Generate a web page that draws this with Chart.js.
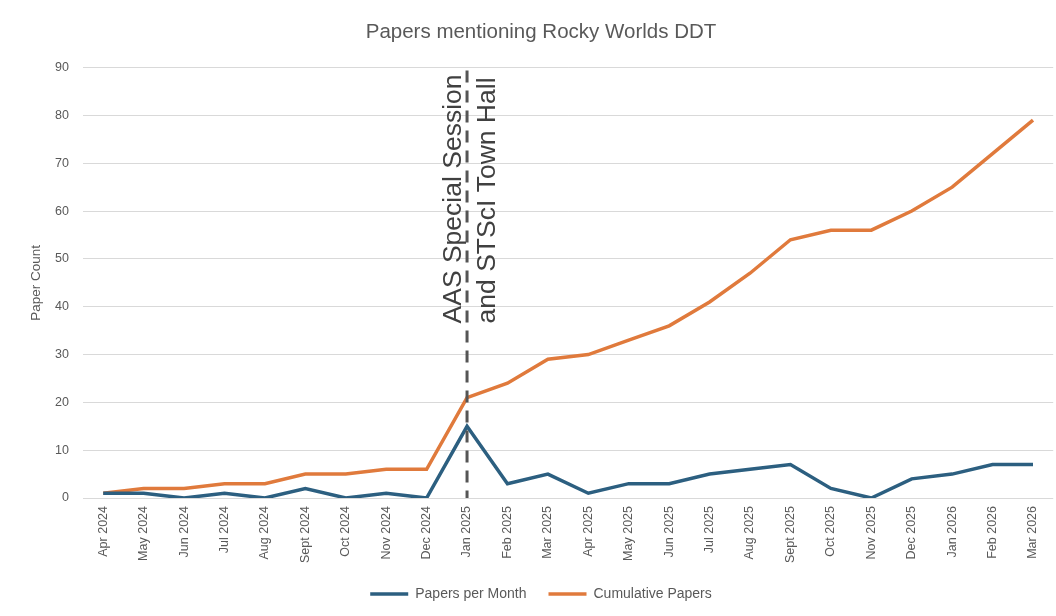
<!DOCTYPE html>
<html>
<head>
<meta charset="utf-8">
<script src="https://cdn.jsdelivr.net/npm/chart.js@4.4.1/dist/chart.umd.min.js"></script>
<style>
  html, body { margin: 0; padding: 0; background: #ffffff; }
  #wrap { width: 1056px; height: 616px; position: relative; }
</style>
</head>
<body>
<div id="wrap"><canvas id="papersChart" width="1056" height="616"></canvas></div>
<script>
// === data ===
const months = ['Apr 2024', 'May 2024', 'Jun 2024', 'Jul 2024', 'Aug 2024', 'Sept 2024', 'Oct 2024',
  'Nov 2024', 'Dec 2024', 'Jan 2025', 'Feb 2025', 'Mar 2025', 'Apr 2025', 'May 2025', 'Jun 2025',
  'Jul 2025', 'Aug 2025', 'Sept 2025', 'Oct 2025', 'Nov 2025', 'Dec 2025', 'Jan 2026', 'Feb 2026', 'Mar 2026'];
const perMonth = [1, 1, 0, 1, 0, 2, 0, 1, 0, 15, 3, 5, 1, 3, 3, 5, 6, 7, 2, 0, 4, 5, 7, 7];
const cumulative = [1, 2, 2, 3, 3, 5, 5, 6, 6, 21, 24, 29, 30, 33, 36, 41, 47, 54, 56, 56, 60, 65, 72, 79];
const eventMonth = 'Jan 2025';
const eventLines = ['AAS Special Session', 'and STScI Town Hall'];

const sans = '"Liberation Sans", Arial, sans-serif';

// dashed marker + rotated note at the event month
const eventMarker = {
  id: 'eventMarker',
  afterDatasetsDraw(chart) {
    const {ctx, chartArea, scales} = chart;
    const x = scales.x.getPixelForValue(months.indexOf(eventMonth));
    ctx.save();
    ctx.strokeStyle = '#555555';
    ctx.lineWidth = 3;
    ctx.setLineDash([12, 8]);
    ctx.beginPath();
    ctx.moveTo(x, chartArea.top + 3);
    ctx.lineTo(x, chartArea.bottom);
    ctx.stroke();
    ctx.setLineDash([]);

    const bottomY = scales.y.getPixelForValue(36.5);
    ctx.fillStyle = '#404040';
    ctx.font = '26.5px ' + sans;
    ctx.textAlign = 'left';
    ctx.textBaseline = 'alphabetic';
    [[-6, eventLines[0]], [28, eventLines[1]]].forEach(([dx, txt]) => {
      ctx.save();
      ctx.translate(x + dx, bottomY);
      ctx.rotate(-Math.PI / 2);
      ctx.fillText(txt, 0, 0);
      ctx.restore();
    });
    ctx.restore();
  }
};

new Chart(document.getElementById('papersChart'), {
  type: 'line',
  data: {
    labels: months,
    datasets: [
      {
        label: 'Papers per Month',
        data: perMonth,
        borderColor: '#2C5F80',
        backgroundColor: '#2C5F80',
        borderWidth: 3.5,
        pointRadius: 0,
        tension: 0
      },
      {
        label: 'Cumulative Papers',
        data: cumulative,
        borderColor: '#E07A3C',
        backgroundColor: '#E07A3C',
        borderWidth: 3.5,
        pointRadius: 0,
        tension: 0
      }
    ]
  },
  options: {
    responsive: false,
    animation: false,
    layout: { padding: { left: 26, right: 0, top: 0, bottom: 5 } },
    scales: {
      x: {
        offset: true,
        grid: { display: false, drawTicks: false },
        border: { display: false },
        ticks: {
          color: '#595959',
          font: { family: sans, size: 12.5 },
          maxRotation: 90,
          minRotation: 90,
          padding: 8,
          autoSkip: false
        },
        afterFit: s => { s.height = 67; }
      },
      y: {
        min: 0,
        max: 90,
        ticks: {
          stepSize: 10,
          color: '#595959',
          font: { family: sans, size: 12.5 },
          padding: 14
        },
        grid: { color: '#d9d9d9', lineWidth: 1, drawTicks: false },
        border: { display: false },
        title: {
          display: true,
          text: 'Paper Count',
          color: '#595959',
          font: { family: sans, size: 13.5 },
          padding: { top: 2, bottom: 0 }
        },
        afterFit: s => { s.width = 57; }
      }
    },
    plugins: {
      title: {
        display: true,
        text: 'Papers mentioning Rocky Worlds DDT',
        color: '#595959',
        font: { family: sans, size: 20.5, weight: 'normal' },
        padding: { top: 20, bottom: 23 }
      },
      legend: {
        position: 'bottom',
        labels: {
          usePointStyle: true,
          pointStyle: 'line',
          pointStyleWidth: 38,
          boxWidth: 38,
          color: '#595959',
          font: { family: sans, size: 14 },
          padding: 22
        }
      },
      tooltip: { enabled: false }
    }
  },
  plugins: [eventMarker]
});
</script>
</body>
</html>
